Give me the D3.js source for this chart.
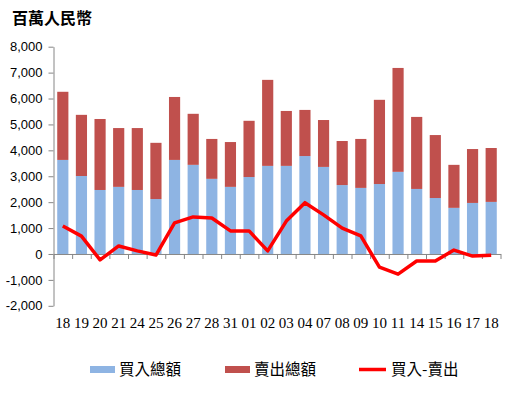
<!DOCTYPE html>
<html>
<head>
<meta charset="utf-8">
<script src="https://cdn.jsdelivr.net/npm/d3@7"></script>
<style>
html,body{margin:0;padding:0;background:#fff;}
svg{display:block;}
</style>
</head>
<body>
<svg id="chart" width="516" height="396"></svg>
<script>
const dates = ["18","19","20","21","24","25","26","27","28","31","01","02","03","04","07","08","09","10","11","14","15","16","17","18"];
const buyTotal = [3630,3010,2470,2590,2470,2120,3630,3440,2900,2590,2970,3400,3400,3780,3360,2660,2550,2700,3170,2510,2160,1780,1970,2010];
const sellTotal = [2630,2360,2740,2270,2390,2170,2430,1970,1540,1730,2170,3320,2120,1780,1810,1700,1890,3250,4010,2780,2430,1660,2080,2080];
const netFlow = [1080,690,-230,310,120,-40,1200,1430,1390,890,890,120,1270,1980,1510,1000,700,-510,-780,-270,-270,150,-80,-50];
const yTicks = [-2000,-1000,0,1000,2000,3000,4000,5000,6000,7000,8000];
const seriesNames = ["買入總額","賣出總額","買入-賣出"];
const colors = ["#8EB4E3","#C0504D","#FF0000"];
const unitLabel = "百萬人民幣";

(function(){
const svg = d3.select("#chart");
const pLeft = 53.5, pRight = 500.5, pTop = 46.7, pBottom = 305.8;

const y = d3.scaleLinear().domain([-2000, 8000]).range([pBottom, pTop]);
const x = d3.scaleBand().domain(d3.range(dates.length)).range([pLeft, pRight]).paddingInner(0.4).paddingOuter(0.2);
const xb = d3.scaleLinear().domain([0, dates.length]).range([pLeft, pRight]);

// bars
const g = svg.append("g");
g.selectAll("rect.buy").data(buyTotal).enter().append("rect")
  .attr("x", (d,i) => x(i)).attr("width", x.bandwidth())
  .attr("y", d => y(d)).attr("height", d => y(0) - y(d))
  .attr("fill", colors[0]);
g.selectAll("rect.sell").data(sellTotal).enter().append("rect")
  .attr("x", (d,i) => x(i)).attr("width", x.bandwidth())
  .attr("y", (d,i) => y(buyTotal[i] + d)).attr("height", (d,i) => y(buyTotal[i]) - y(buyTotal[i] + d))
  .attr("fill", colors[1]);

// y axis
const fmt = d => (d < 0 ? "-" : "") + d3.format(",")(Math.abs(d));
const yAxis = svg.append("g").attr("transform", `translate(${pLeft},0)`)
  .call(d3.axisLeft(y).tickValues(yTicks).tickFormat(fmt).tickSize(5).tickSizeOuter(0).tickPadding(6));
yAxis.selectAll("path,line").attr("stroke", "#868686");
yAxis.selectAll("text").attr("font-family", "Liberation Sans, Arial, sans-serif").attr("font-size", 13).attr("fill", "#000");

// x axis at zero
const xAxis = svg.append("g").attr("transform", `translate(0,${y(0)})`)
  .call(d3.axisBottom(xb).tickValues(d3.range(dates.length + 1)).tickFormat("").tickSize(5).tickSizeOuter(0));
xAxis.selectAll("path,line").attr("stroke", "#868686");

// x labels at bottom
svg.append("g").selectAll("text").data(dates).enter().append("text")
  .attr("x", (d,i) => x(i) + x.bandwidth()/2).attr("y", 328)
  .attr("text-anchor", "middle")
  .attr("font-family", "Liberation Serif, Times New Roman, serif").attr("font-size", 15)
  .attr("fill", "#000").text(d => d);

// line
const line = d3.line().x((d,i) => x(i) + x.bandwidth()/2).y(d => y(d));
svg.append("path").datum(netFlow).attr("d", line)
  .attr("fill", "none").attr("stroke", colors[2]).attr("stroke-width", 3.5).attr("stroke-linejoin", "round");

// title
svg.append("text").attr("x", 12).attr("y", 24)
  .attr("font-family", "Noto Sans CJK TC, sans-serif").attr("font-weight", "bold").attr("font-size", 16)
  .attr("fill", "#000").text(unitLabel);

// legend
const legend = svg.append("g");
const lx = [90, 225, 359];
const tx = [119, 254, 391];
seriesNames.forEach((n, i) => {
  if (i < 2) {
    legend.append("rect").attr("x", lx[i]).attr("y", 366).attr("width", 25).attr("height", 7).attr("fill", colors[i]);
  } else {
    legend.append("line").attr("x1", lx[i]).attr("x2", lx[i] + 27).attr("y1", 369.5).attr("y2", 369.5)
      .attr("stroke", colors[i]).attr("stroke-width", 3.5);
  }
  legend.append("text").attr("x", tx[i]).attr("y", 375)
    .attr("font-family", "Noto Sans CJK TC, sans-serif").attr("font-size", 15.5)
    .attr("fill", "#000").text(n);
});
})();
</script>
</body>
</html>
